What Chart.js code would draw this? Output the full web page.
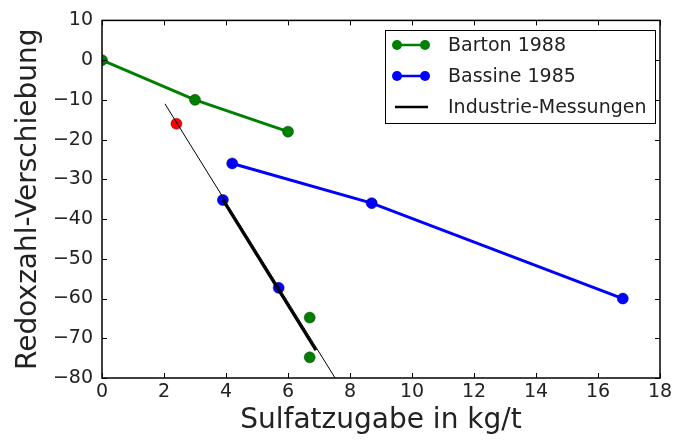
<!DOCTYPE html>
<html>
<head>
<meta charset="utf-8">
<script src="https://cdn.jsdelivr.net/npm/chart.js@4.4.0/dist/chart.umd.min.js"></script>
<style>
  html, body { margin: 0; padding: 0; background: #fff; }
  #wrap { width: 678px; height: 441px; }
</style>
</head>
<body>
<div id="wrap"><canvas id="myChart"></canvas></div>
<script>
// data
var bartonX = [0, 3, 6];
var bartonY = [0, -10, -18];
var bassineX = [4.2, 8.7, 16.8];
var bassineY = [-26, -36, -60];
var industrieX = [3.9, 6.9];
var industrieY = [-35.2, -73];
var fitX = [2.03, 7.52];
var fitY = [-11, -80];
var redX = [2.4];
var redY = [-16];
var blueX = [3.9, 5.7];
var blueY = [-35.2, -57.3];
var greenX = [6.7, 6.7];
var greenY = [-64.8, -74.8];

var xTicks = [0, 2, 4, 6, 8, 10, 12, 14, 16, 18];
var yTicks = [-80, -70, -60, -50, -40, -30, -20, -10, 0, 10];

var legendNames = ['Barton 1988', 'Bassine 1985', 'Industrie-Messungen'];
var legendColors = ['#008000', '#0000ff', '#000000'];
var legendMarkers = [true, true, false];

function pts(xs, ys) {
    return xs.map(function (x, i) { return { x: x, y: ys[i] }; });
}

const FONT = "'DejaVu Sans', sans-serif";

// matplotlib style inward ticks on all four sides
const innerTicks = {
    id: 'innerTicks',
    afterDatasetsDraw(chart) {
        const c = chart.ctx;
        const a = chart.chartArea;
        const xs = chart.scales.x, ys = chart.scales.y;
        c.save();
        c.strokeStyle = '#000';
        c.lineWidth = 1;
        c.beginPath();
        xTicks.forEach(function (t) {
            const px = Math.round(xs.getPixelForValue(t)) + 0.5;
            c.moveTo(px, a.bottom); c.lineTo(px, a.bottom - 5);
            c.moveTo(px, a.top); c.lineTo(px, a.top + 5);
        });
        yTicks.forEach(function (t) {
            const py = Math.round(ys.getPixelForValue(t)) + 0.5;
            c.moveTo(a.left, py); c.lineTo(a.left + 5, py);
            c.moveTo(a.right, py); c.lineTo(a.right - 5, py);
        });
        c.stroke();
        c.lineWidth = 1.5;
        c.strokeRect(a.left, a.top, a.right - a.left, a.bottom - a.top);
        c.restore();
    }
};

// legend box drawn in the upper right of the plot
const boxLegend = {
    id: 'boxLegend',
    afterDraw(chart) {
        const c = chart.ctx;
        const bx = 385, by = 30, bw = 270, bh = 93;
        c.save();
        c.fillStyle = '#fff';
        c.fillRect(bx, by, bw, bh);
        c.strokeStyle = '#000';
        c.lineWidth = 1;
        c.strokeRect(bx + 0.5, by + 0.5, bw, bh);
        c.font = '19px ' + FONT;
        c.textBaseline = 'middle';
        legendNames.forEach(function (name, i) {
            const y = by + 15 + i * 31;
            c.strokeStyle = legendColors[i];
            c.lineWidth = i === 2 ? 2.5 : 2.5;
            c.beginPath();
            c.moveTo(395, y); c.lineTo(428, y);
            c.stroke();
            if (legendMarkers[i]) {
                c.fillStyle = legendColors[i];
                [397, 425].forEach(function (mx) {
                    c.beginPath();
                    c.arc(mx, y, 5, 0, Math.PI * 2);
                    c.fill();
                });
            }
            c.fillStyle = '#222';
            c.fillText(name, 448, y + 1);
        });
        c.restore();
    }
};

const ctx = document.getElementById('myChart');

new Chart(ctx, {
    type: 'scatter',
    data: {
        datasets: [{
            label: legendNames[0],
            data: pts(bartonX, bartonY),
            showLine: true,
            borderColor: '#008000',
            backgroundColor: '#008000',
            borderWidth: 3,
            pointRadius: 5.5,
            pointBorderColor: '#0a3a0a',
            pointBorderWidth: 0.5
        }, {
            label: legendNames[1],
            data: pts(bassineX, bassineY),
            showLine: true,
            borderColor: '#0000ff',
            backgroundColor: '#0000ff',
            borderWidth: 3,
            pointRadius: 5.5,
            pointBorderColor: '#00006a',
            pointBorderWidth: 0.5
        }, {
            label: 'fit',
            data: pts(fitX, fitY),
            showLine: true,
            borderColor: '#000',
            borderWidth: 1,
            pointRadius: 0
        }, {
            label: legendNames[2],
            data: pts(industrieX, industrieY),
            showLine: true,
            borderColor: '#000',
            borderWidth: 3,
            pointRadius: 0
        }, {
            label: 'red',
            data: pts(redX, redY),
            backgroundColor: '#ff0000',
            pointRadius: 5.5,
            pointBorderColor: '#6a0000',
            pointBorderWidth: 0.5
        }, {
            label: 'blue',
            data: pts(blueX, blueY),
            backgroundColor: '#0000ff',
            pointRadius: 5.5,
            pointBorderColor: '#00006a',
            pointBorderWidth: 0.5
        }, {
            label: 'green',
            data: pts(greenX, greenY),
            backgroundColor: '#008000',
            pointRadius: 5.5,
            pointBorderColor: '#0a3a0a',
            pointBorderWidth: 0.5
        }]
    },
    options: {
        responsive: true,
        maintainAspectRatio: false,
        animation: false,
        layout: { padding: { top: 18, right: 18 } },
        plugins: {
            legend: { display: false },
            tooltip: { enabled: false }
        },
        scales: {
            x: {
                type: 'linear',
                min: 0,
                max: 18,
                afterBuildTicks: function (s) { s.ticks = xTicks.map(function (v) { return { value: v }; }); },
                afterFit: function (s) { s.height = 63; },
                grid: { drawOnChartArea: false, drawTicks: false },
                border: { display: false },
                ticks: {
                    color: '#222',
                    padding: 3,
                    font: { family: FONT, size: 19 }
                },
                title: {
                    display: true,
                    text: 'Sulfatzugabe in kg/t',
                    color: '#222',
                    font: { family: FONT, size: 28 },
                    padding: { top: 0, bottom: 3 }
                }
            },
            y: {
                type: 'linear',
                min: -80,
                max: 10,
                afterBuildTicks: function (s) { s.ticks = yTicks.map(function (v) { return { value: v }; }); },
                afterFit: function (s) { s.width = 102; },
                grid: { drawOnChartArea: false, drawTicks: false },
                border: { display: false },
                ticks: {
                    color: '#222',
                    padding: 9,
                    font: { family: FONT, size: 19 },
                    callback: function (v) { return String(v).replace('-', '\u2212'); }
                },
                title: {
                    display: true,
                    text: 'Redoxzahl-Verschiebung',
                    color: '#222',
                    font: { family: FONT, size: 28 },
                    padding: { top: 12, bottom: 0 }
                }
            }
        }
    },
    plugins: [innerTicks, boxLegend]
});
</script>
</body>
</html>
